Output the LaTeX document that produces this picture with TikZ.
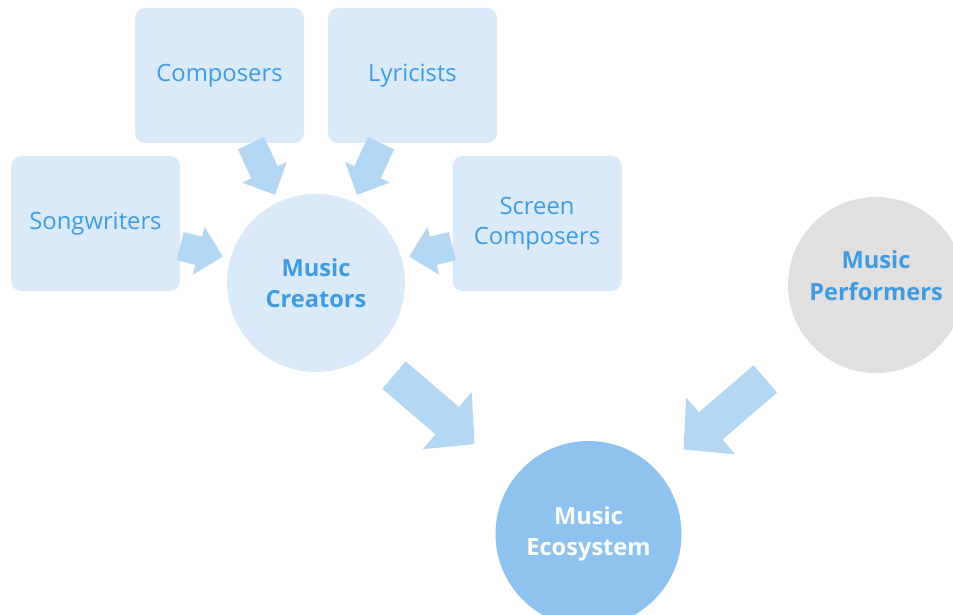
\documentclass[tikz,border=0pt]{standalone}
\usepackage{fontspec}
\setmainfont{Open Sans}
\usetikzlibrary{arrows.meta}
\definecolor{boxblue}{HTML}{DAEAF9}
\definecolor{textblue}{HTML}{3E9BE4}
\definecolor{arrowblue}{HTML}{B4D7F4}
\definecolor{ecoblue}{HTML}{8EC3EF}
\definecolor{performgrey}{HTML}{E0E0E0}

\begin{document}
\begin{tikzpicture}[x=1pt,y=-1pt,
		rolenode/.style={
		% The shape:
		rectangle,
		rounded corners=10pt,
		% The size:
		minimum width=169pt,
		minimum height=135pt,
		% The filling:
		fill=boxblue,
		% Font
		text=textblue,
		font=\fontsize{23.8}{29.5}\selectfont,
		align=center
		},
		groupnode/.style={
		% The shape:
		circle,
		inner sep=0pt,
		% The size:
		minimum size=178pt,
		% The filling:
		fill=boxblue,
		% Font
		text=textblue,
		font=\fontsize{23.6}{31.5}\selectfont\bfseries,
		align=center
		},
		smallarrow/.style={draw=arrowblue, line width=29pt, -{Triangle[length=25pt,width=48pt]}},
		bigarrow/.style={draw=arrowblue, line width=36pt, -{Triangle[length=36pt,width=73pt]}}
	]
	\clip (0,0) rectangle (953,615);

	\node (CMP)[rolenode] at (219.5,75.5) {Composers};
	\node (LYR)[rolenode] at (412.5,75.5) {Lyricists};
	\node (SW)[rolenode] at (95.5,223.5) {Songwriters};
	\node (SCR)[rolenode] at (537,223.5) {Screen\\Composers};
	\node (MC)[groupnode] at (316,283) {Music\\Creators};
	% text sits a little high in the grey circle
	\node (MP)[groupnode, minimum size=176pt, fill=performgrey] at (876,285)
		{\raisebox{7pt}[\height][\depth]{\begin{tabular}{@{}c@{}}Music\\Performers\end{tabular}}};
	\node (ECO)[groupnode, minimum size=186pt, fill=ecoblue, text=white] at (588.5,534) {Music\\Ecosystem};

	% feeding arrows into the creators
	\draw [smallarrow, shorten >=7.5pt] (SW.-15) -- (MC.164);
	\draw [smallarrow, shorten >=8pt] (CMP.-65) -- (MC.115);
	\draw [smallarrow, shorten >=8pt] (LYR.-115) -- (MC.65);
	\draw [smallarrow, shorten >=7.5pt] (SCR.-165) -- (MC.16);

	% big arrows into the ecosystem
	\draw [bigarrow, shorten <=32pt, shorten >=52pt] (MC.-53) -- (ECO.143);
	\draw [bigarrow, shorten <=57pt, shorten >=34pt] (MP.-140) -- (ECO.42);
\end{tikzpicture}
\end{document}
